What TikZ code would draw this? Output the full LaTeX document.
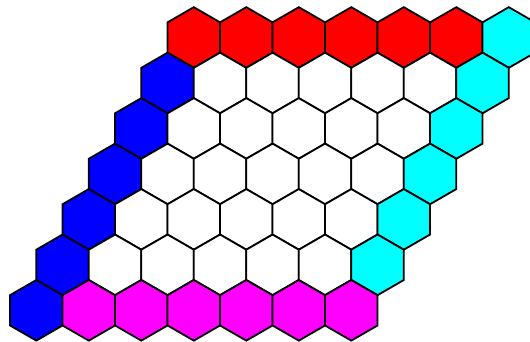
\documentclass[tikz,border=0pt]{standalone}
\definecolor{hexred}{RGB}{255,0,0}
\definecolor{hexblue}{RGB}{0,0,255}
\definecolor{hexcyan}{RGB}{0,255,255}
\definecolor{hexmag}{RGB}{255,0,255}
\begin{document}
\begin{tikzpicture}[x=1pt,y=-1pt,
  hexcell/.style={draw=black,line width=1.8pt,line join=miter}]
\useasboundingbox (0,0) rectangle (530,342);
\clip (0,0) rectangle (530,342);
\def\R{30.31}
\foreach \r in {0,...,6}{
  \foreach \c in {0,...,6}{
    \pgfmathsetmacro{\cx}{193.8+52.5*\c-26.25*\r}
    \pgfmathsetmacro{\cy}{37.5+45.47*\r}
    \def\col{white}
    \ifnum\c=0 \def\col{hexblue}\fi
    \ifnum\c=6 \def\col{hexcyan}\fi
    \ifnum\r=0 \ifnum\c<6 \def\col{hexred}\fi\fi
    \ifnum\r=6 \ifnum\c>0 \def\col{hexmag}\fi\fi
    \draw[hexcell,fill=\col] (\cx,\cy) +(90:\R) -- +(150:\R) -- +(210:\R) -- +(270:\R) -- +(330:\R) -- +(30:\R) -- cycle;
  }
}
\end{tikzpicture}
\end{document}
